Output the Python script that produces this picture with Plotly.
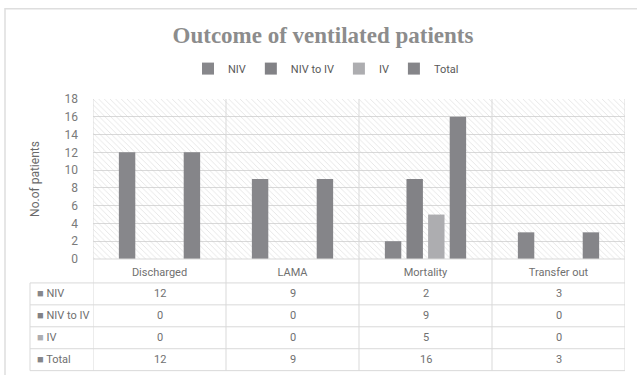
import plotly.graph_objects as go

# ---------------- data ----------------
categories = ["Discharged", "LAMA", "Mortality", "Transfer out"]
series_names = ["NIV", "NIV to IV", "IV", "Total"]
niv = [12, 9, 2, 3]
niv_to_iv = [0, 0, 9, 0]
iv = [0, 0, 5, 0]
total = [12, 9, 16, 3]
y_ticks = [0, 2, 4, 6, 8, 10, 12, 14, 16, 18]
title_text = "Outcome of ventilated patients"
y_title = "No.of patients"

series_values = [niv, niv_to_iv, iv, total]
colors = ["#87878b", "#828286", "#adadb0", "#858589"]

Y_MAX = y_ticks[-1]

# ---------------- layout geometry (pixels) ----------------
W, H = 637, 375
PX_L, PX_R, PX_T, PX_B = 93, 625, 98.5, 259


def px_x(p):
    return (p - PX_L) / (PX_R - PX_L)


def px_y(p):
    return (PX_B - p) / (PX_B - PX_T)


GRID = "#d9d9d9"
TXT = "#707070"
FONT = "Roboto, Liberation Sans, sans-serif"

fig = go.Figure()

# hatched background (one full-width cell per category)
fig.add_trace(go.Bar(
    x=categories, y=[Y_MAX] * len(categories), width=1,
    marker=dict(color="rgba(0,0,0,0)", line=dict(width=0),
                pattern=dict(shape="\\", fgcolor="#c9c9c9", size=4, solidity=0.22)),
    showlegend=False, hoverinfo="skip", xaxis="x", yaxis="y",
))

for name, vals, c in zip(series_names, series_values, colors):
    fig.add_trace(go.Bar(
        x=categories, y=vals, name=name, marker=dict(color=c, line=dict(width=0)),
        xaxis="x2", yaxis="y",
    ))

shapes = []
# table horizontal lines
row_bounds = [283, 305, 327, 349, 371]
for yb in row_bounds:
    shapes.append(dict(type="line", xref="paper", yref="paper",
                       x0=px_x(30), x1=px_x(625), y0=px_y(yb), y1=px_y(yb),
                       line=dict(color=GRID, width=1)))
# axis baseline
shapes.append(dict(type="line", xref="paper", yref="paper",
                   x0=0, x1=1, y0=0, y1=0, line=dict(color=GRID, width=1)))
# table left edge
shapes.append(dict(type="line", xref="paper", yref="paper",
                   x0=px_x(30), x1=px_x(30), y0=px_y(283), y1=px_y(371),
                   line=dict(color=GRID, width=1)))
# category boundaries, through plot, label row and table
for i in range(len(categories) + 1):
    shapes.append(dict(type="line", xref="x", yref="paper",
                       x0=i - 0.5, x1=i - 0.5, y0=1, y1=px_y(371),
                       line=dict(color=GRID, width=1)))
# outer chart frame
shapes.append(dict(type="rect", xref="paper", yref="paper",
                   x0=px_x(5), x1=px_x(660), y0=px_y(8), y1=px_y(400),
                   line=dict(color="#dedede", width=1.5)))

annotations = []
row_centers = [(row_bounds[k] + row_bounds[k + 1]) / 2 for k in range(4)]
for name, vals, c, yc in zip(series_names, series_values, colors, row_centers):
    annotations.append(dict(
        xref="paper", yref="paper", x=px_x(35), y=px_y(yc), xanchor="left", yanchor="middle",
        text=f"<span style='color:{c}'>■</span> {name}", showarrow=False,
        font=dict(family=FONT, size=11, color=TXT)))
    for cat, v in zip(categories, vals):
        annotations.append(dict(
            xref="x", yref="paper", x=cat, y=px_y(yc), xanchor="center", yanchor="middle",
            text=str(v), showarrow=False, font=dict(family=FONT, size=11, color=TXT)))

fig.update_layout(
    width=W, height=H,
    margin=dict(l=PX_L, r=W - PX_R, t=PX_T, b=H - PX_B, pad=0),
    paper_bgcolor="white", plot_bgcolor="white",
    barmode="group", bargap=0.35, bargroupgap=0.24,
    title=dict(text=title_text, x=323 / W, xanchor="center", y=1 - 35 / H, yanchor="middle",
               font=dict(family="Liberation Serif, DejaVu Serif, serif", size=23, color="#8c8c8c",
                         weight="bold")),
    legend=dict(orientation="h", x=px_x(326), xanchor="center", y=px_y(68), yanchor="middle",
                font=dict(family=FONT, size=11, color="#595959"), itemwidth=30,
                bgcolor="rgba(0,0,0,0)"),
    xaxis=dict(type="category", categoryorder="array", categoryarray=categories,
               range=[-0.5, len(categories) - 0.5], showgrid=False, zeroline=False,
               showline=False, ticks="", tickfont=dict(family=FONT, size=11, color=TXT),
               ticklabelstandoff=5),
    xaxis2=dict(type="category", categoryorder="array", categoryarray=categories,
                range=[-0.5, len(categories) - 0.5], overlaying="x", visible=False),
    yaxis=dict(range=[0, Y_MAX], tickvals=y_ticks, showgrid=True, gridcolor=GRID, gridwidth=1,
               zeroline=False, showline=False, ticks="",
               tickfont=dict(family=FONT, size=12, color="#7a7a7a"), ticklabelstandoff=14,
               title=dict(text=y_title, font=dict(family=FONT, size=12, color="#6a6a6a"),
                          standoff=22)),
    shapes=shapes, annotations=annotations,
)

fig.write_html("out.html", config={"displayModeBar": False},
               post_script="document.body.style.margin='0';")
